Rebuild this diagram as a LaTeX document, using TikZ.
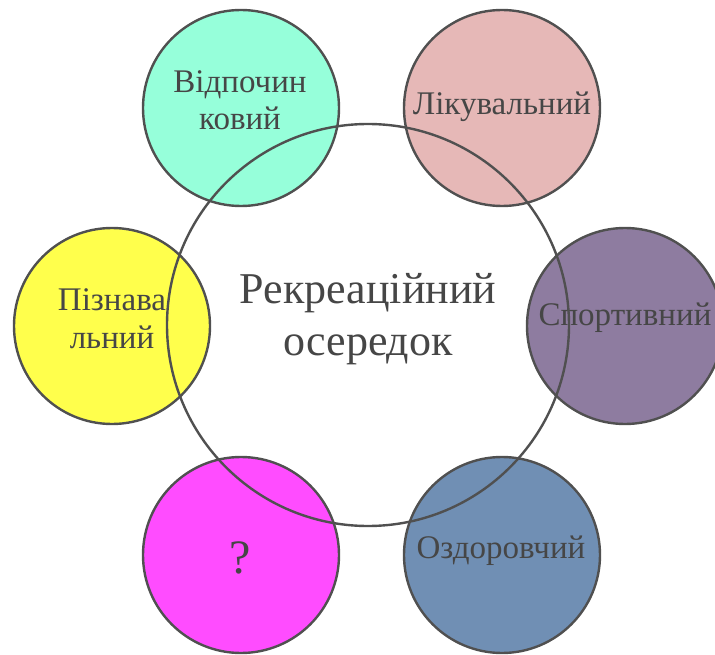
\documentclass[tikz,border=0pt]{standalone}
\usepackage{fontspec}
\setmainfont{Liberation Serif}
\begin{document}
\begin{tikzpicture}[x=1pt,y=-1pt,
  small/.style={circle,draw=linegray,line width=2.4pt,minimum size=196pt,inner sep=0pt},
  lbl/.style={anchor=base,inner sep=0pt,text=textgray,font=\fontsize{33}{33}\selectfont},
  biglbl/.style={anchor=base,inner sep=0pt,text=textgray,font=\fontsize{44}{44}\selectfont}]
\definecolor{linegray}{HTML}{505050}
\definecolor{textgray}{HTML}{464646}
\definecolor{cmint}{HTML}{96FFDA}
\definecolor{cpink}{HTML}{E6B8B7}
\definecolor{cpurple}{HTML}{8E7CA0}
\definecolor{cblue}{HTML}{708FB4}
\definecolor{cmagenta}{HTML}{FF4CFF}
\definecolor{cyellow}{HTML}{FFFF4C}
\useasboundingbox (0,0) rectangle (715,655);
\clip (0,0) rectangle (715,655);
\node[small,fill=cmint] (vid) at (241,108) {};
\node[small,fill=cpink] (lik) at (502,108) {};
\node[small,fill=cpurple] (spo) at (625,326) {};
\node[small,fill=cblue] (ozd) at (502,555) {};
\node[small,fill=cmagenta] (que) at (241,555) {};
\node[small,fill=cyellow] (piz) at (112,326) {};
\node[lbl] (t1a) at (240,93) {Відпочин};
\node[lbl] (t1b) at (240,130) {ковий};
\node[lbl] (t2) at (502,115) {Лікувальний};
\node[lbl] (t3) at (625,325) {Спортивний};
\node[lbl] (t4) at (501,558) {Оздоровчий};
\node[lbl,font=\fontsize{48}{48}\selectfont] (t5) at (240,573) {?};
\node[lbl] (t6a) at (112,310) {Пізнава};
\node[lbl] (t6b) at (112,348) {льний};
\node[circle,draw=linegray,line width=2.4pt,minimum size=402pt,inner sep=0pt] (main) at (368,325) {};
\node[biglbl] (m1) at (368,303) {Рекреаційний};
\node[biglbl] (m2) at (368,355) {осередок};
\end{tikzpicture}
\end{document}
